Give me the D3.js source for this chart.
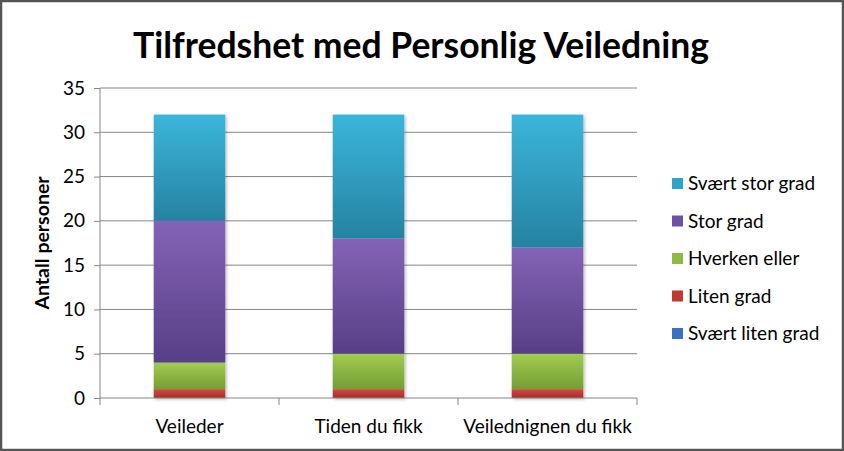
<!DOCTYPE html>
<html><head><meta charset="utf-8">
<script src="https://cdn.jsdelivr.net/npm/d3@7"></script>
<style>body{margin:0;background:#fff}svg{display:block}</style>
</head><body><svg id="c" width="844" height="451"></svg>
<script>
const categories = ["Veileder", "Tiden du fikk", "Veilednignen du fikk"];
const seriesNames = ["Svært liten grad", "Liten grad", "Hverken eller", "Stor grad", "Svært stor grad"];
const svaertLiten = [0, 0, 0];
const liten = [1, 1, 1];
const hverken = [3, 4, 4];
const stor = [16, 13, 12];
const svaertStor = [12, 14, 15];
const yTicks = [0, 5, 10, 15, 20, 25, 30, 35];
const title = "Tilfredshet med Personlig Veiledning";
const yLabel = "Antall personer";

const colors = {
  "Svært liten grad": ["#4a86d0", "#2c5fa6", "#3a72c2"],
  "Liten grad": ["#d44a44", "#a62b28", "#c0392f"],
  "Hverken eller": ["#a2cc52", "#739e33", "#8cbc44"],
  "Stor grad": ["#8463b6", "#573f86", "#7050a6"],
  "Svært stor grad": ["#3ab6da", "#2682a2", "#2fa4c8"]
};

const table = categories.map((c, i) => ({
  cat: c,
  "Svært liten grad": svaertLiten[i],
  "Liten grad": liten[i],
  "Hverken eller": hverken[i],
  "Stor grad": stor[i],
  "Svært stor grad": svaertStor[i]
}));
const stacked = d3.stack().keys(seriesNames)(table);

const svg = d3.select("#c");
const font = "Lato, 'Open Sans', sans-serif";

// border
svg.append("rect").attr("x", 1).attr("y", 1).attr("width", 842).attr("height", 449)
  .attr("fill", "#fff").attr("stroke", "#555").attr("stroke-width", 2.5);

const defs = svg.append("defs");
seriesNames.forEach((s, i) => {
  const g = defs.append("linearGradient").attr("id", "g" + i)
    .attr("x1", 0).attr("y1", 0).attr("x2", 0).attr("y2", 1);
  g.append("stop").attr("offset", "0%").attr("stop-color", colors[s][0]);
  g.append("stop").attr("offset", "100%").attr("stop-color", colors[s][1]);
});
const f = defs.append("filter").attr("id", "sh").attr("x", "-10%").attr("y", "-10%").attr("width", "130%").attr("height", "130%");
f.append("feDropShadow").attr("dx", 1.5).attr("dy", 1.5).attr("stdDeviation", 1.5).attr("flood-color", "#000").attr("flood-opacity", 0.25);

const x = d3.scaleBand().domain(categories).range([100, 637]).paddingInner(0.6).paddingOuter(0.3);
const xAxisScale = d3.scaleBand().domain(categories).range([100, 637]);
const y = d3.scaleLinear().domain([0, 35]).range([398, 88]);

// gridlines
svg.append("g").selectAll("line").data(yTicks.filter(t => t > 0)).join("line")
  .attr("x1", 100).attr("x2", 637).attr("y1", d => y(d)).attr("y2", d => y(d))
  .attr("stroke", "#868686").attr("stroke-width", 1);

// y axis
const yAxis = svg.append("g").attr("transform", "translate(100,0)")
  .call(d3.axisLeft(y).tickValues(yTicks).tickSize(6).tickPadding(9));
yAxis.select(".domain").attr("stroke", "#868686").attr("d", `M0,${y(35)}V${y(0)}`);
yAxis.selectAll(".tick line").attr("stroke", "#868686");
yAxis.selectAll("text").attr("font-family", font).attr("font-size", 19).attr("fill", "#000");

// bars
const layers = svg.append("g").attr("filter", "url(#sh)");
stacked.forEach((layer, i) => {
  layers.append("g").selectAll("rect").data(layer.filter(d => d[1] - d[0] > 0)).join("rect")
    .attr("x", d => x(d.data.cat)).attr("width", x.bandwidth())
    .attr("y", d => y(d[1])).attr("height", d => y(d[0]) - y(d[1]))
    .attr("fill", `url(#g${i})`);
});

// x axis
const xAxis = svg.append("g").attr("transform", `translate(0,${y(0)})`);
xAxis.append("line").attr("x1", 100).attr("x2", 637).attr("stroke", "#868686");
const xt = [...categories.map(c => xAxisScale(c)), 637];
xAxis.selectAll("line.t").data(xt).join("line").attr("class", "t")
  .attr("x1", d => d).attr("x2", d => d).attr("y1", 0).attr("y2", 7).attr("stroke", "#868686");
xAxis.selectAll("text").data(categories).join("text")
  .attr("x", d => xAxisScale(d) + xAxisScale.bandwidth() / 2).attr("y", 35)
  .attr("text-anchor", "middle").attr("font-family", font).attr("font-size", 19).text(d => d);

// title
svg.append("text").attr("x", 421).attr("y", 58).attr("text-anchor", "middle")
  .attr("font-family", font).attr("font-weight", "bold").attr("font-size", 35.5).text(title);

// y label
svg.append("text").attr("transform", `translate(49,${(y(0) + y(35)) / 2}) rotate(-90)`)
  .attr("text-anchor", "middle").attr("font-family", font).attr("font-weight", "bold")
  .attr("font-size", 19.5).text(yLabel);

// legend
const legendOrder = seriesNames.slice().reverse();
const lg = svg.append("g").selectAll("g").data(legendOrder).join("g")
  .attr("transform", (d, i) => `translate(672,${183 + i * 37.5})`);
lg.append("rect").attr("x", 0).attr("y", -5).attr("width", 11).attr("height", 11)
  .attr("fill", d => colors[d][2]);
lg.append("text").attr("x", 16).attr("y", 7).attr("font-family", font).attr("font-size", 19).text(d => d);
</script></body></html>
